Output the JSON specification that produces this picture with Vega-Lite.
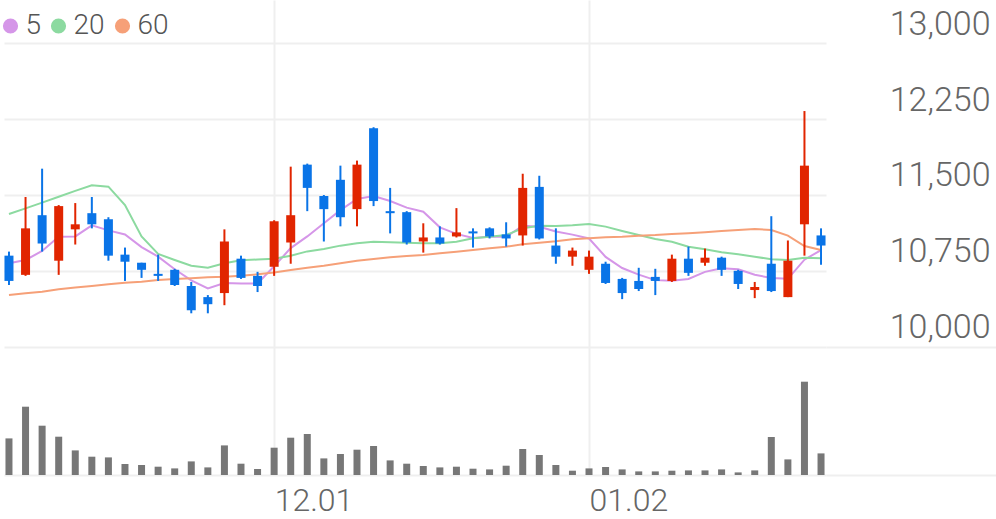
{
  "$schema": "https://vega.github.io/schema/vega-lite/v6.json",
  "width": 822,
  "height": 475,
  "padding": {"left": 4, "top": 0, "right": 170, "bottom": 44},
  "autosize": {"type": "none"},
  "background": "white",
  "config": {"view": {"stroke": null}, "font": "Roboto"},
  "data": {"values": [
    {"date":"2023-11-09","o":10900,"h":10940,"l":10610,"c":10650,"v":36600,"ma5":10825,"ma20":11312,"ma60":10511},
    {"date":"2023-11-10","o":10710,"h":11480,"l":10700,"c":11170,"v":68300,"ma5":10857,"ma20":11368,"ma60":10528},
    {"date":"2023-11-13","o":11300,"h":11760,"l":10940,"c":11020,"v":49300,"ma5":10946,"ma20":11424,"ma60":10544},
    {"date":"2023-11-14","o":10850,"h":11400,"l":10710,"c":11390,"v":38300,"ma5":11088,"ma20":11483,"ma60":10568},
    {"date":"2023-11-15","o":11160,"h":11420,"l":11010,"c":11210,"v":24600,"ma5":11090,"ma20":11540,"ma60":10584},
    {"date":"2023-11-16","o":11320,"h":11480,"l":11170,"c":11210,"v":18300,"ma5":11200,"ma20":11596,"ma60":10600},
    {"date":"2023-11-17","o":11260,"h":11280,"l":10850,"c":10900,"v":17600,"ma5":11150,"ma20":11582,"ma60":10617},
    {"date":"2023-11-20","o":10910,"h":10980,"l":10650,"c":10840,"v":11000,"ma5":11110,"ma20":11400,"ma60":10633},
    {"date":"2023-11-21","o":10830,"h":10830,"l":10680,"c":10760,"v":10000,"ma5":10985,"ma20":11090,"ma60":10643},
    {"date":"2023-11-22","o":10720,"h":10910,"l":10650,"c":10700,"v":8300,"ma5":10890,"ma20":10917,"ma60":10660},
    {"date":"2023-11-23","o":10760,"h":10770,"l":10600,"c":10610,"v":6600,"ma5":10765,"ma20":10857,"ma60":10669},
    {"date":"2023-11-24","o":10600,"h":10640,"l":10330,"c":10360,"v":13600,"ma5":10655,"ma20":10800,"ma60":10676},
    {"date":"2023-11-27","o":10490,"h":10510,"l":10330,"c":10420,"v":7600,"ma5":10575,"ma20":10781,"ma60":10686},
    {"date":"2023-11-28","o":10530,"h":11160,"l":10410,"c":11040,"v":29600,"ma5":10630,"ma20":10825,"ma60":10692},
    {"date":"2023-11-29","o":10870,"h":10900,"l":10670,"c":10680,"v":11300,"ma5":10625,"ma20":10855,"ma60":10702},
    {"date":"2023-11-30","o":10700,"h":10740,"l":10540,"c":10600,"v":6000,"ma5":10625,"ma20":10862,"ma60":10716},
    {"date":"2023-12-01","o":10790,"h":11250,"l":10700,"c":11240,"v":27300,"ma5":10795,"ma20":10870,"ma60":10734},
    {"date":"2023-12-04","o":11030,"h":11780,"l":10820,"c":11300,"v":37300,"ma5":10975,"ma20":10900,"ma60":10758},
    {"date":"2023-12-05","o":11800,"h":11810,"l":11340,"c":11570,"v":41000,"ma5":11090,"ma20":10942,"ma60":10781},
    {"date":"2023-12-06","o":11490,"h":11500,"l":11040,"c":11360,"v":16600,"ma5":11220,"ma20":10966,"ma60":10801},
    {"date":"2023-12-07","o":11650,"h":11790,"l":11190,"c":11280,"v":21000,"ma5":11350,"ma20":10999,"ma60":10825},
    {"date":"2023-12-08","o":11360,"h":11840,"l":11190,"c":11800,"v":25300,"ma5":11460,"ma20":11022,"ma60":10850},
    {"date":"2023-12-11","o":12160,"h":12170,"l":11390,"c":11440,"v":29000,"ma5":11490,"ma20":11038,"ma60":10867},
    {"date":"2023-12-12","o":11340,"h":11570,"l":11120,"c":11320,"v":14600,"ma5":11440,"ma20":11032,"ma60":10884},
    {"date":"2023-12-13","o":11330,"h":11340,"l":11010,"c":11030,"v":11300,"ma5":11375,"ma20":11028,"ma60":10897},
    {"date":"2023-12-14","o":11040,"h":11220,"l":10930,"c":11080,"v":9000,"ma5":11335,"ma20":11022,"ma60":10907},
    {"date":"2023-12-15","o":11080,"h":11190,"l":11010,"c":11020,"v":7600,"ma5":11180,"ma20":11022,"ma60":10923},
    {"date":"2023-12-18","o":11090,"h":11370,"l":11080,"c":11130,"v":8300,"ma5":11115,"ma20":11038,"ma60":10939},
    {"date":"2023-12-19","o":11140,"h":11170,"l":10980,"c":11120,"v":6300,"ma5":11075,"ma20":11072,"ma60":10956},
    {"date":"2023-12-20","o":11170,"h":11180,"l":11070,"c":11090,"v":5600,"ma5":11088,"ma20":11088,"ma60":10973},
    {"date":"2023-12-21","o":11110,"h":11230,"l":10990,"c":11070,"v":9300,"ma5":11086,"ma20":11104,"ma60":10989},
    {"date":"2023-12-22","o":11100,"h":11710,"l":11000,"c":11570,"v":26000,"ma5":11196,"ma20":11171,"ma60":11012},
    {"date":"2023-12-26","o":11580,"h":11690,"l":11060,"c":11070,"v":20000,"ma5":11186,"ma20":11196,"ma60":11028},
    {"date":"2023-12-27","o":11000,"h":11170,"l":10820,"c":10890,"v":10000,"ma5":11138,"ma20":11193,"ma60":11043},
    {"date":"2023-12-28","o":10890,"h":10980,"l":10800,"c":10950,"v":4300,"ma5":11108,"ma20":11200,"ma60":11062},
    {"date":"2024-01-02","o":10760,"h":10950,"l":10720,"c":10890,"v":6600,"ma5":11070,"ma20":11213,"ma60":11072},
    {"date":"2024-01-03","o":10820,"h":10840,"l":10620,"c":10630,"v":8000,"ma5":10888,"ma20":11187,"ma60":11082},
    {"date":"2024-01-04","o":10670,"h":10680,"l":10470,"c":10530,"v":5600,"ma5":10778,"ma20":11144,"ma60":11088},
    {"date":"2024-01-05","o":10650,"h":10780,"l":10550,"c":10570,"v":3600,"ma5":10712,"ma20":11104,"ma60":11098},
    {"date":"2024-01-08","o":10690,"h":10770,"l":10510,"c":10650,"v":3600,"ma5":10658,"ma20":11065,"ma60":11104},
    {"date":"2024-01-09","o":10650,"h":10910,"l":10640,"c":10870,"v":4300,"ma5":10652,"ma20":11038,"ma60":11114},
    {"date":"2024-01-10","o":10870,"h":10990,"l":10700,"c":10730,"v":4600,"ma5":10670,"ma20":10989,"ma60":11121},
    {"date":"2024-01-11","o":10830,"h":10970,"l":10800,"c":10880,"v":4600,"ma5":10740,"ma20":10963,"ma60":11131},
    {"date":"2024-01-12","o":10880,"h":10890,"l":10700,"c":10760,"v":5600,"ma5":10776,"ma20":10933,"ma60":11144},
    {"date":"2024-01-15","o":10750,"h":10760,"l":10570,"c":10620,"v":2600,"ma5":10766,"ma20":10914,"ma60":11154},
    {"date":"2024-01-16","o":10560,"h":10640,"l":10480,"c":10590,"v":4600,"ma5":10712,"ma20":10890,"ma60":11164},
    {"date":"2024-01-17","o":10820,"h":11290,"l":10540,"c":10550,"v":38000,"ma5":10678,"ma20":10864,"ma60":11154},
    {"date":"2024-01-18","o":10490,"h":11050,"l":10490,"c":10850,"v":15600,"ma5":10671,"ma20":10857,"ma60":11098},
    {"date":"2024-01-19","o":11210,"h":12330,"l":10900,"c":11790,"v":93300,"ma5":10860,"ma20":10880,"ma60":10995},
    {"date":"2024-01-22","o":11100,"h":11170,"l":10810,"c":11000,"v":21600,"ma5":10955,"ma20":10874,"ma60":10956}
  ]},
  "encoding": {
    "x": {
      "field": "date", "type": "ordinal",
      "scale": {"type": "point", "padding": 0.3},
      "axis": {
        "orient": "bottom", "title": null,
        "values": ["2023-12-01", "2024-01-02"],
        "labelExpr": "slice(datum.label, 5, 7) + '.' + slice(datum.label, 8, 10)",
        "grid": true, "gridColor": "#efefef", "gridWidth": 2,
        "domain": false, "ticks": false,
        "labelFont": "Roboto", "labelFontSize": 32, "labelFontWeight": 300, "labelColor": "#666666",
        "labelAlign": "left", "labelBaseline": "alphabetic", "labelPadding": 35, "labelAngle": 0
      }
    }
  },
  "layer": [
    {
      "layer": [
        {
          "transform": [{"fold": ["ma5", "ma20", "ma60"], "as": ["ma", "val"]}],
          "mark": {"type": "line", "strokeWidth": 2},
          "encoding": {
            "y": {
              "field": "val", "type": "quantitative",
              "scale": {"domain": [8731, 13428], "nice": false, "zero": false},
              "axis": {
                "orient": "right", "title": null,
                "values": [8731, 10000, 10750, 11500, 12250, 13000],
                "labelExpr": "datum.value < 9000 ? '' : format(datum.value, ',')",
                "grid": true, "gridColor": "#efefef", "gridWidth": 2,
                "domain": false,
                "ticks": true, "tickSize": 170, "tickWidth": 2, "tickColor": "#efefef",
                "tickOpacity": {"condition": {"test": "datum.value <= 10000", "value": 1}, "value": 0},
                "labelFont": "Roboto", "labelFontSize": 34, "labelFontWeight": 300, "labelColor": "#666666",
                "labelAlign": "right", "labelPadding": -6, "labelBaseline": "alphabetic", "labelOffset": -9,
                "labelFlush": false, "labelOverlap": false
              }
            },
            "color": {
              "field": "ma", "type": "nominal",
              "scale": {"domain": ["ma5", "ma20", "ma60"], "range": ["#d596e8", "#8cdaa0", "#f6a078"]},
              "legend": {
                "title": null, "orient": "none", "legendX": -7.5, "legendY": 12,
                "direction": "horizontal", "padding": 0,
                "symbolType": "circle", "symbolSize": 230, "symbolStrokeWidth": 0,
                "labelExpr": "replace(datum.label, 'ma', '')",
                "labelFont": "Roboto", "labelFontSize": 28, "labelFontWeight": 300, "labelColor": "#555555",
                "labelOffset": 1, "columnPadding": 3,
                "encode": {"symbols": {"update": {"fill": {"scale": "color", "field": "value"}, "fillOpacity": {"value": 1}}}}
              }
            }
          }
        },
        {
          "mark": {"type": "rule", "strokeWidth": 2},
          "encoding": {
            "y": {"field": "l", "type": "quantitative", "scale": {"domain": [8731, 13428], "nice": false, "zero": false}},
            "y2": {"field": "h"},
            "color": {"condition": {"test": "datum.c >= datum.o", "value": "#e12500"}, "value": "#0a74e7"}
          }
        },
        {
          "mark": {"type": "bar", "width": 9},
          "encoding": {
            "y": {"field": "o", "type": "quantitative", "scale": {"domain": [8731, 13428], "nice": false, "zero": false}},
            "y2": {"field": "c"},
            "color": {"condition": {"test": "datum.c >= datum.o", "value": "#e12500"}, "value": "#0a74e7"}
          }
        }
      ]
    },
    {
      "mark": {"type": "bar", "width": 7, "color": "#777777"},
      "encoding": {
        "y": {"field": "v", "type": "quantitative", "scale": {"domain": [0, 475000], "nice": false}, "axis": null}
      }
    }
  ],
  "resolve": {"scale": {"y": "independent"}, "axis": {"y": "independent"}}
}
